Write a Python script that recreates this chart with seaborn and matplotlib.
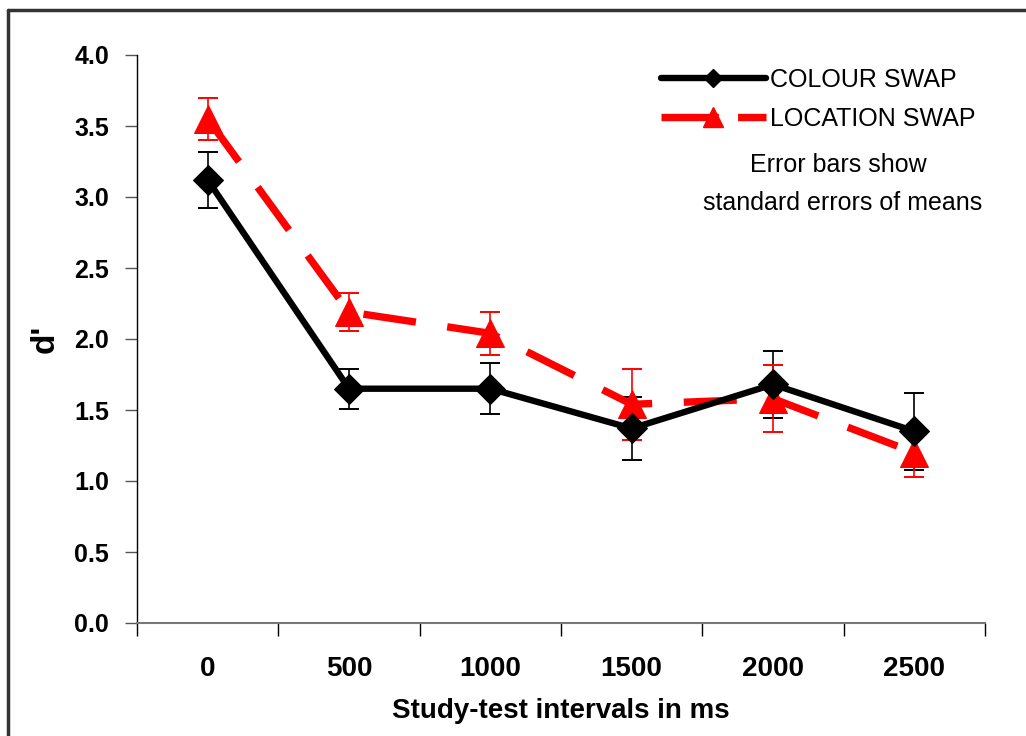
import matplotlib
matplotlib.use("Agg")
import matplotlib.pyplot as plt
import seaborn as sns
import pandas as pd
import numpy as np
from matplotlib.lines import Line2D

intervals = ["0", "500", "1000", "1500", "2000", "2500"]
colour_swap = [3.12, 1.65, 1.65, 1.37, 1.68, 1.35]
colour_se = [0.20, 0.14, 0.18, 0.22, 0.235, 0.27]
location_swap = [3.55, 2.19, 2.04, 1.54, 1.58, 1.20]
location_se = [0.15, 0.135, 0.15, 0.25, 0.235, 0.17]
series_names = ["COLOUR SWAP", "LOCATION SWAP"]
yticks = [0.0, 0.5, 1.0, 1.5, 2.0, 2.5, 3.0, 3.5, 4.0]

sns.set_theme(style="white")
plt.rcParams['font.family'] = ['Liberation Sans', 'DejaVu Sans']
plt.rcParams['text.color'] = 'black'
plt.rcParams['axes.labelcolor'] = 'black'
plt.rcParams['xtick.color'] = 'black'
plt.rcParams['ytick.color'] = 'black'

fig = plt.figure(figsize=(10.26, 7.36), dpi=100)
ax = fig.add_axes([137/1026, 1-623/736, (985-137)/1026, (623-55)/736])

df = pd.DataFrame({
    "x": list(range(len(intervals))) * 2,
    "d": colour_swap + location_swap,
    "series": [series_names[0]] * 6 + [series_names[1]] * 6,
})

pos = np.arange(len(intervals))
ax.errorbar(pos, colour_swap, yerr=colour_se, fmt="none", ecolor="black",
            elinewidth=1.2, capsize=7, capthick=1.4, zorder=2)
ax.errorbar(pos, location_swap, yerr=location_se, fmt="none", ecolor="red",
            elinewidth=1.2, capsize=7, capthick=1.4, zorder=2)

red_dash = [7.2, 4.3]
sns.lineplot(data=df[df.series == series_names[1]], x="x", y="d", ax=ax,
             color="red", lw=5.3, marker="^", markersize=20,
             markeredgecolor="red", dashes=False, legend=False, zorder=3)
ax.lines[-1].set_dashes(red_dash)
sns.lineplot(data=df[df.series == series_names[0]], x="x", y="d", ax=ax,
             color="black", lw=4.6, marker="D", markersize=15,
             markeredgecolor="black", legend=False, zorder=4)

ax.set_xlim(-0.5, 5.5)
ax.set_ylim(0, 4.0)
ax.set_yticks(yticks)
ax.set_yticklabels([f"{v:.1f}" for v in yticks], fontsize=18, fontweight="bold")
ax.set_xticks(pos)
ax.set_xticklabels(intervals, fontsize=20, fontweight="bold")
ax.set_xticks(np.arange(-0.5, 6.0, 1.0), minor=True)
ax.tick_params(axis="x", which="major", length=0, pad=24)
ax.tick_params(axis="x", which="minor", length=9, width=1, color="black", direction="out", bottom=True)
ax.tick_params(axis="y", which="major", length=9, width=1, color="#555555", direction="out", left=True, pad=11)
for s in ["top", "right"]:
    ax.spines[s].set_visible(False)
ax.spines["left"].set_color("black")
ax.spines["bottom"].set_color("#777777")
ax.spines["left"].set_linewidth(1)
ax.spines["bottom"].set_linewidth(1.5)
ax.grid(False)
ax.set_xlabel("Study-test intervals in ms", fontsize=20, fontweight="bold", labelpad=11)
ax.set_ylabel("d'", fontsize=24, fontweight="bold", labelpad=10)

handles = [
    Line2D([], [], color="black", lw=4.6, marker="D", markersize=9),
    Line2D([], [], color="red", lw=5.3, marker="^", markersize=14, dashes=[7.8, 2.6]),
]
leg = ax.legend(handles, series_names, loc="upper right", bbox_to_anchor=(1.0, 0.995),
                frameon=False, fontsize=18, handlelength=4.2, handletextpad=0.15,
                labelspacing=0.6, borderaxespad=0.0)

fig.text(838/1026, 1-165/736, "Error bars show", ha="center", va="center", fontsize=18)
fig.text(843/1026, 1-203/736, "standard errors of means", ha="center", va="center", fontsize=18)

fig.add_artist(Line2D([8/1026, 1.0], [1-10/736, 1-10/736], color="#333333", lw=2.5, transform=fig.transFigure))
fig.add_artist(Line2D([8/1026, 8/1026], [1-10/736, 0], color="#333333", lw=2.5, transform=fig.transFigure))

fig.savefig("out.png", dpi=100, facecolor="white")
